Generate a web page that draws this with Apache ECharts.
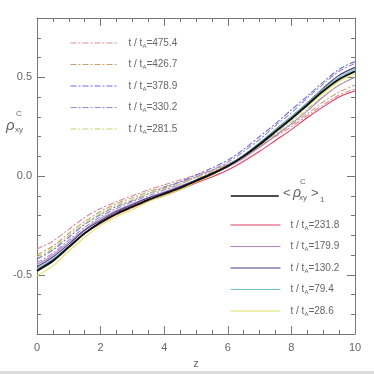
<!DOCTYPE html>
<html><head><meta charset="utf-8">
<script src="https://cdn.jsdelivr.net/npm/echarts@6/dist/echarts.min.js"></script>
<style>html,body{margin:0;padding:0;background:#fff}#c{width:374px;height:374px}</style>
</head><body><div id="c"></div>
<script>
const zValues = [0,0.5,1,1.5,2,2.5,3,3.5,4,4.5,5,5.5,6,6.5,7,7.5,8,8.5,9,9.5,10];
const meanRho = [-0.48,-0.43,-0.36,-0.29,-0.235,-0.19,-0.155,-0.12,-0.09,-0.06,-0.025,0.01,0.05,0.10,0.16,0.225,0.29,0.36,0.43,0.49,0.53];
const t4754 = [-0.37,-0.33,-0.27,-0.21,-0.165,-0.13,-0.10,-0.07,-0.045,-0.02,0.005,0.03,0.06,0.10,0.15,0.20,0.25,0.305,0.36,0.41,0.44];
const t4267 = [-0.40,-0.355,-0.29,-0.23,-0.18,-0.14,-0.11,-0.08,-0.055,-0.03,-0.005,0.025,0.06,0.10,0.15,0.205,0.26,0.315,0.375,0.425,0.46];
const t3789 = [-0.42,-0.375,-0.31,-0.245,-0.195,-0.155,-0.125,-0.09,-0.06,-0.03,0.005,0.04,0.08,0.135,0.20,0.265,0.335,0.405,0.475,0.54,0.58];
const t3302 = [-0.44,-0.39,-0.325,-0.26,-0.205,-0.165,-0.13,-0.10,-0.07,-0.04,-0.005,0.03,0.07,0.125,0.185,0.255,0.32,0.395,0.465,0.53,0.57];
const t2815 = [-0.41,-0.365,-0.30,-0.24,-0.19,-0.15,-0.12,-0.09,-0.065,-0.04,-0.01,0.02,0.055,0.10,0.155,0.215,0.275,0.34,0.405,0.46,0.50];
const t2318 = [-0.47,-0.425,-0.36,-0.29,-0.24,-0.195,-0.16,-0.125,-0.10,-0.07,-0.035,-0.005,0.03,0.075,0.125,0.18,0.235,0.295,0.35,0.40,0.43];
const t1799 = [-0.45,-0.40,-0.335,-0.27,-0.215,-0.175,-0.14,-0.11,-0.08,-0.05,-0.02,0.01,0.045,0.09,0.145,0.205,0.265,0.33,0.40,0.46,0.50];
const t1302 = [-0.46,-0.41,-0.345,-0.275,-0.225,-0.18,-0.145,-0.11,-0.085,-0.055,-0.02,0.015,0.055,0.105,0.165,0.235,0.30,0.37,0.445,0.51,0.55];
const t794 = [-0.47,-0.42,-0.355,-0.29,-0.235,-0.19,-0.155,-0.12,-0.09,-0.06,-0.025,0.01,0.055,0.105,0.17,0.235,0.30,0.37,0.44,0.50,0.54];
const t286 = [-0.505,-0.455,-0.38,-0.31,-0.25,-0.205,-0.17,-0.13,-0.10,-0.07,-0.03,0.005,0.05,0.10,0.16,0.225,0.29,0.355,0.42,0.48,0.515];

const dashedNames = ['475.4','426.7','378.9','330.2','281.5'];
const dashedData = [t4754,t4267,t3789,t3302,t2815];
const dashedColors = ['#d88a9a','#c8a070','#6a6ae0','#9a88d0','#c8d070'];
const solidNames = ['231.8','179.9','130.2','79.4','28.6'];
const solidData = [t2318,t1799,t1302,t794,t286];
const solidColors = ['#e04060','#b088c0','#503888','#70c0c0','#e0e060'];
const yLabelValues = [-0.5,0,0.5];
const xLabelValues = [0,2,4,6,8,10];

function pts(arr){ return zValues.map((z,i)=>[z,arr[i]]); }
const series = [];
dashedNames.forEach((n,i)=>series.push({name:n,type:'line',symbol:'none',smooth:0.3,data:pts(dashedData[i]),
  lineStyle:{color:dashedColors[i],width:1.1,type:[6,2,2,2]},itemStyle:{color:dashedColors[i]},z:2}));
solidNames.forEach((n,i)=>series.push({name:n,type:'line',symbol:'none',smooth:0.3,data:pts(solidData[i]),
  lineStyle:{color:solidColors[i],width:1.1},itemStyle:{color:solidColors[i]},z:3}));
series.push({name:'mean',type:'line',symbol:'none',smooth:0.3,data:pts(meanRho),
  lineStyle:{color:'#111',width:2},itemStyle:{color:'#111'},z:5});

const axCol = '#777';
const txtCol = '#666';
const FONT = 'Liberation Sans, Arial, sans-serif';
const rich = {s:{fontSize:6,lineHeight:6,verticalAlign:'bottom',color:txtCol,fontFamily:FONT}};
const legFmt = n => 't / t{s|A}=' + n;
const legText = {fontSize:10,lineHeight:12,color:txtCol,fontFamily:FONT,rich:rich,padding:[0,0,0,5]};

const minorTick = {show:true,inside:true,length:4,lineStyle:{color:axCol}};
const majorTickX = {show:true,inside:true,length:8,lineStyle:{color:axCol},customValues:xLabelValues};
const majorTickY = {show:true,inside:true,length:8,lineStyle:{color:axCol},customValues:yLabelValues};
const axLine = {show:true,onZero:false,lineStyle:{color:axCol,width:1}};
const noLine = {show:false,onZero:false};
const hideLab = {show:false};

const option = {
  animation:false,
  backgroundColor:'#fff',
  grid:{left:37,top:18,width:318,height:320,containLabel:false},
  xAxis:[
    {type:'value',min:0,max:10,interval:0.5,position:'bottom',axisLine:axLine,axisTick:minorTick,splitLine:{show:false},
     name:'z',nameLocation:'middle',nameGap:24,nameTextStyle:{color:txtCol,fontSize:11,fontFamily:FONT},
     axisLabel:{color:txtCol,fontSize:11,fontFamily:FONT,margin:8,customValues:xLabelValues,formatter:v=>String(v)}},
    {type:'value',min:0,max:10,interval:0.5,position:'top',axisLine:axLine,axisTick:minorTick,splitLine:{show:false},axisLabel:hideLab},
    {type:'value',min:0,max:10,position:'bottom',axisLine:noLine,axisTick:majorTickX,splitLine:{show:false},axisLabel:hideLab},
    {type:'value',min:0,max:10,position:'top',axisLine:noLine,axisTick:majorTickX,splitLine:{show:false},axisLabel:hideLab}
  ],
  yAxis:[
    {type:'value',min:-0.8,max:0.8,interval:0.1,position:'left',axisLine:axLine,axisTick:minorTick,splitLine:{show:false},
     axisLabel:{color:txtCol,fontSize:11,fontFamily:FONT,margin:5,customValues:yLabelValues,formatter:v=>v.toFixed(1)}},
    {type:'value',min:-0.8,max:0.8,interval:0.1,position:'right',axisLine:axLine,axisTick:minorTick,splitLine:{show:false},axisLabel:hideLab},
    {type:'value',min:-0.8,max:0.8,position:'left',axisLine:noLine,axisTick:majorTickY,splitLine:{show:false},axisLabel:hideLab},
    {type:'value',min:-0.8,max:0.8,position:'right',axisLine:noLine,axisTick:majorTickY,splitLine:{show:false},axisLabel:hideLab}
  ],
  legend:[
    {data:dashedNames,left:70,top:37,orient:'vertical',padding:0,itemWidth:48,itemHeight:10,itemGap:9.5,
     itemStyle:{opacity:0},lineStyle:{width:1},formatter:legFmt,textStyle:legText},
    {data:['mean'],left:230,top:190,orient:'vertical',padding:0,itemWidth:48,itemHeight:10,
     itemStyle:{opacity:0},lineStyle:{width:1.5},formatter:()=>' ',textStyle:{fontSize:10,lineHeight:12}},
    {data:solidNames,left:230,top:219,orient:'vertical',padding:0,itemWidth:50,itemHeight:10,itemGap:9.5,
     itemStyle:{opacity:0},lineStyle:{width:1},formatter:legFmt,textStyle:legText}
  ],
  graphic:[
    {type:'text',left:6,top:118,style:{text:'ρ',font:'italic 15px '+FONT,fill:txtCol}},
    {type:'text',left:16,top:110,style:{text:'C',font:'8px '+FONT,fill:txtCol}},
    {type:'text',left:15,top:126,style:{text:'xy',font:'8px '+FONT,fill:txtCol}},
    {type:'text',left:283,top:187,style:{text:'<',font:'13px '+FONT,fill:txtCol}},
    {type:'text',left:293,top:186,style:{text:'ρ',font:'italic 14px '+FONT,fill:txtCol}},
    {type:'text',left:300,top:178,style:{text:'C',font:'8px '+FONT,fill:txtCol}},
    {type:'text',left:299,top:194,style:{text:'xy',font:'8px '+FONT,fill:txtCol}},
    {type:'text',left:311,top:187,style:{text:'>',font:'13px '+FONT,fill:txtCol}},
    {type:'text',left:320,top:196,style:{text:'1',font:'8px '+FONT,fill:txtCol}},
    {type:'rect',left:0,top:371,shape:{width:374,height:3},style:{fill:'#ddd'}}
  ],
  series:series
};
const chart = echarts.init(document.getElementById('c'),null,{renderer:'canvas'});
chart.setOption(option);
</script></body></html>
